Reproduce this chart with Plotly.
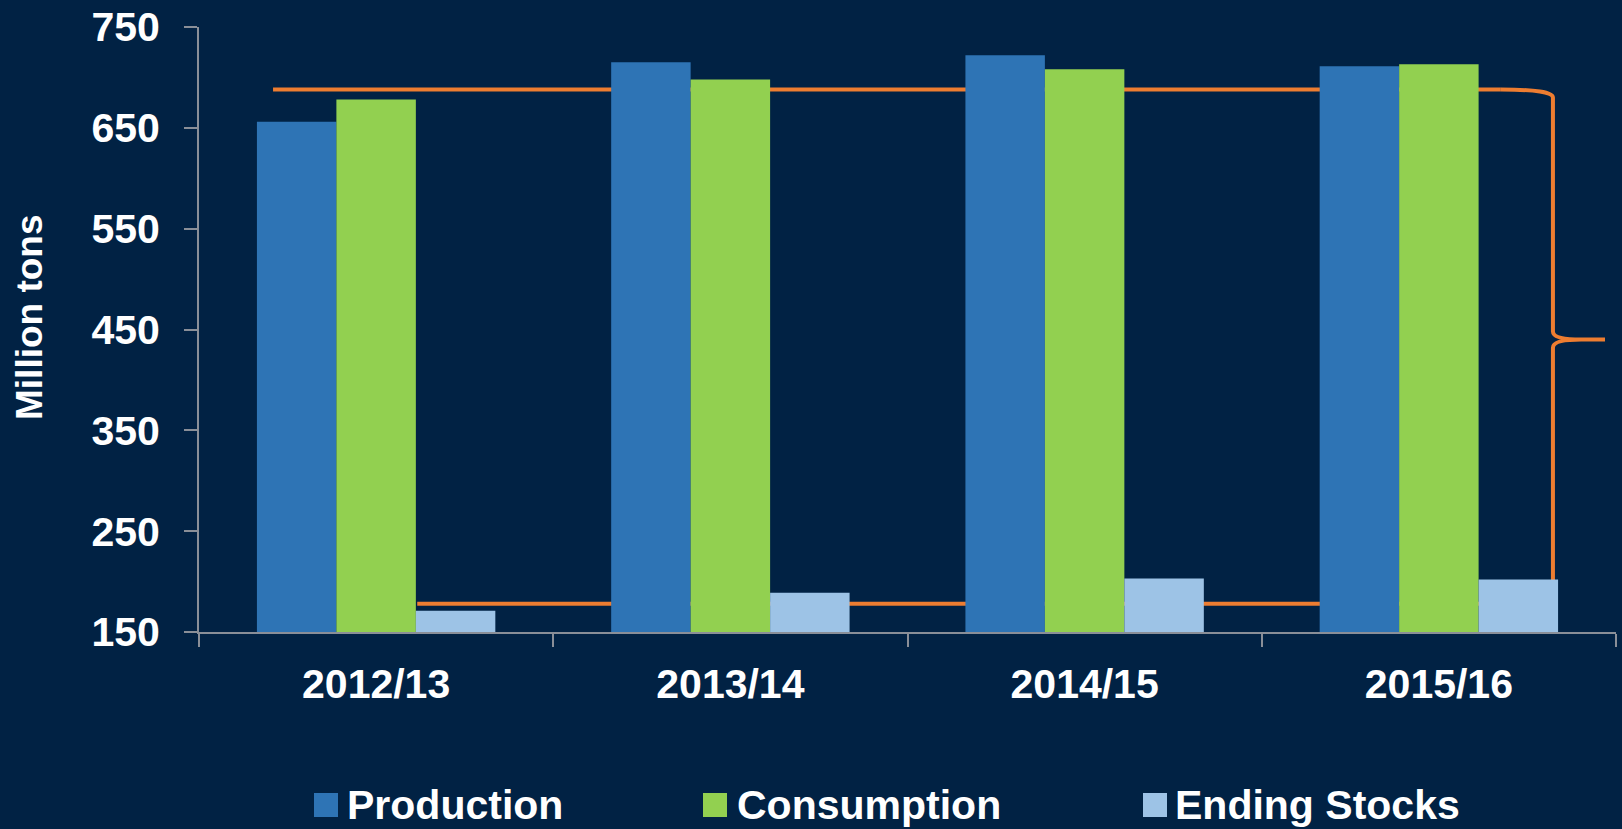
import plotly.graph_objects as go

# ---------------- data ----------------
categories = ["2012/13", "2013/14", "2014/15", "2015/16"]
production = [656, 715, 722, 711]
consumption = [678, 698, 708, 713]
ending_stocks = [171, 189, 203, 202]
series_names = ["Production", "Consumption", "Ending Stocks"]
y_ticks = [150, 250, 350, 450, 550, 650, 750]

# bracket annotation levels (million tons)
upper_level = 688
lower_level = 178
brace_tip_level = 440

# ---------------- style ----------------
BG = "#012244"
COLORS = ["#2E74B5", "#92D050", "#9DC3E6"]
ORANGE = "#ED7D31"
AXIS = "#8A8F98"
FONT = "Liberation Sans, Arial, sans-serif"

W, H = 1622, 829
ML, MR, MT, MB = 199, 6, 27, 197
PW, PH = W - ML - MR, H - MT - MB


def px2paper_x(px):
    return (px - ML) / PW


def px2paper_y(py):
    return (H - MB - py) / PH


fig = go.Figure()
for name, vals, col in zip(series_names, [production, consumption, ending_stocks], COLORS):
    fig.add_trace(go.Bar(
        x=categories, y=vals, name=name,
        marker=dict(color=col, line=dict(width=0)),
        showlegend=False,
    ))

# bracket lines drawn behind bars (category index coordinates)
x_left_top = -0.291
x_left_low = 0.116
x_end = 3.175
x_brace = 3.322
x_tip = 3.469
dv = 8
LW = 4
shapes = [
    dict(type="line", xref="x", yref="y", x0=x_left_top, x1=x_end,
         y0=upper_level, y1=upper_level, line=dict(color=ORANGE, width=LW), layer="below"),
    dict(type="line", xref="x", yref="y", x0=x_left_low, x1=x_end,
         y0=lower_level, y1=lower_level, line=dict(color=ORANGE, width=LW), layer="below"),
]
path = (
    f"M {x_end},{upper_level} Q {x_brace},{upper_level} {x_brace},{upper_level - dv} "
    f"L {x_brace},{brace_tip_level + dv} Q {x_brace},{brace_tip_level} {x_brace + 0.08},{brace_tip_level} "
    f"L {x_tip},{brace_tip_level} "
    f"M {x_brace + 0.08},{brace_tip_level} Q {x_brace},{brace_tip_level} {x_brace},{brace_tip_level - dv} "
    f"L {x_brace},{lower_level + dv} Q {x_brace},{lower_level} {x_end},{lower_level}"
)
shapes.append(dict(type="path", xref="x", yref="y", path=path,
                   line=dict(color=ORANGE, width=LW), layer="below"))

# custom legend
legend_sq_px = [314, 703, 1143]
legend_txt_px = [348, 738, 1176]
sq_top, sq_bot = 793, 817
annotations = []
for name, col, sx, tx in zip(series_names, COLORS, legend_sq_px, legend_txt_px):
    shapes.append(dict(type="rect", xref="paper", yref="paper",
                       x0=px2paper_x(sx), x1=px2paper_x(sx + 24),
                       y0=px2paper_y(sq_bot), y1=px2paper_y(sq_top),
                       fillcolor=col, line=dict(width=0), layer="above"))
    annotations.append(dict(text=name, xref="paper", yref="paper",
                            x=px2paper_x(tx - 3), y=px2paper_y(805), xanchor="left", yanchor="middle",
                            showarrow=False,
                            font=dict(family=FONT, size=41, color="white", weight="bold")))

# y-axis title
annotations.append(dict(text="Million tons", xref="paper", yref="paper",
                        x=px2paper_x(29), y=px2paper_y(317), textangle=-90,
                        xanchor="center", yanchor="middle", showarrow=False,
                        font=dict(family=FONT, size=37, color="white", weight="bold")))

fig.update_layout(
    width=W, height=H,
    margin=dict(l=ML, r=MR, t=MT, b=MB, autoexpand=False),
    paper_bgcolor=BG, plot_bgcolor=BG,
    barmode="group", bargap=0.327, bargroupgap=0,
    shapes=shapes, annotations=annotations,
    font=dict(family=FONT, color="white"),
    xaxis=dict(
        type="category", range=[-0.5, 3.5], tickson="boundaries",
        ticks="outside", ticklen=13, tickwidth=1.5, tickcolor=AXIS,
        showline=True, linecolor=AXIS, linewidth=2,
        showgrid=False, zeroline=False, ticklabelstandoff=15,
        tickfont=dict(family=FONT, size=41, color="white", weight="bold"),
    ),
    yaxis=dict(
        range=[150, 750], tickvals=y_ticks,
        ticks="outside", ticklen=13, tickwidth=1.5, tickcolor=AXIS,
        showline=True, linecolor=AXIS, linewidth=2,
        showgrid=False, zeroline=False, ticklabelstandoff=16,
        tickfont=dict(family=FONT, size=41, color="white", weight="bold"),
    ),
)

fig.write_html(
    "out.html",
    config={"displayModeBar": False},
    post_script="document.body.style.margin='0';document.body.style.overflow='hidden';"
                "document.body.style.background='" + BG + "';",
)
